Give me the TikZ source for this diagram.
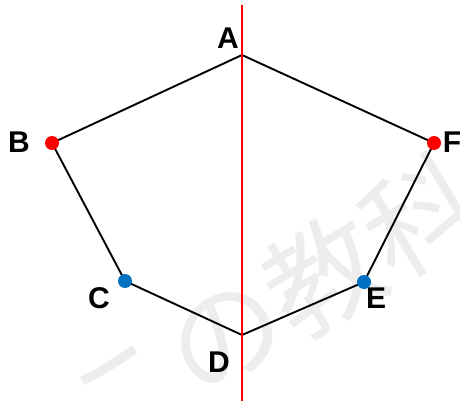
\documentclass[tikz,border=0pt]{standalone}
\usepackage{fontspec}
\setmainfont{Liberation Sans}
\newfontfamily\jpfont{Noto Sans CJK JP}
\definecolor{ptred}{RGB}{255,0,0}
\definecolor{ptblue}{RGB}{0,112,192}
\tikzset{
    side/.style={line width=1.9pt, black},
    axis/.style={line width=1.5pt, ptred},
    lbl/.style={font=\bfseries\fontsize{30}{30}\selectfont, inner sep=0pt},
    reddot/.style={circle, fill=ptred, minimum size=14pt, inner sep=0pt},
    bluedot/.style={circle, fill=ptblue, minimum size=14pt, inner sep=0pt},
}

\begin{document}
\begin{tikzpicture}[x=1pt,y=-1pt]
            \useasboundingbox (0,0) rectangle (460,401);
            % watermark
            \node (wm) at (175,364) [rotate=31, text=black!7, inner sep=0pt]
                {\jpfont\fontsize{115}{115}\selectfont しろねこの教科書};

            \coordinate (A) at (242,55);
            \coordinate (B) at (52,143);
            \coordinate (C) at (125,281);
            \coordinate (D) at (242,335);
            \coordinate (E) at (364,282);
            \coordinate (F) at (434,143);

            \coordinate (top) at (242,5);
            \coordinate (bot) at (242,401);

            \draw[side] (A) -- (B) -- (C) -- (D) -- (E) -- (F) -- cycle;
            \draw[axis] (top) -- (bot);

            \node[reddot] (dB) at (B) {};
            \node[reddot] (dF) at (F) {};
            \node[bluedot] (dC) at (C) {};
            \node[bluedot] (dE) at (E) {};

            \node[lbl] (lA) at (228,38) {A};
            \node[lbl] (lB) at (19,142) {B};
            \node[lbl] (lC) at (99,298) {C};
            \node[lbl] (lD) at (219,362) {D};
            \node[lbl] (lE) at (376,298) {E};
            \node[lbl] (lF) at (452,142) {F};
        \end{tikzpicture}
\end{document}
